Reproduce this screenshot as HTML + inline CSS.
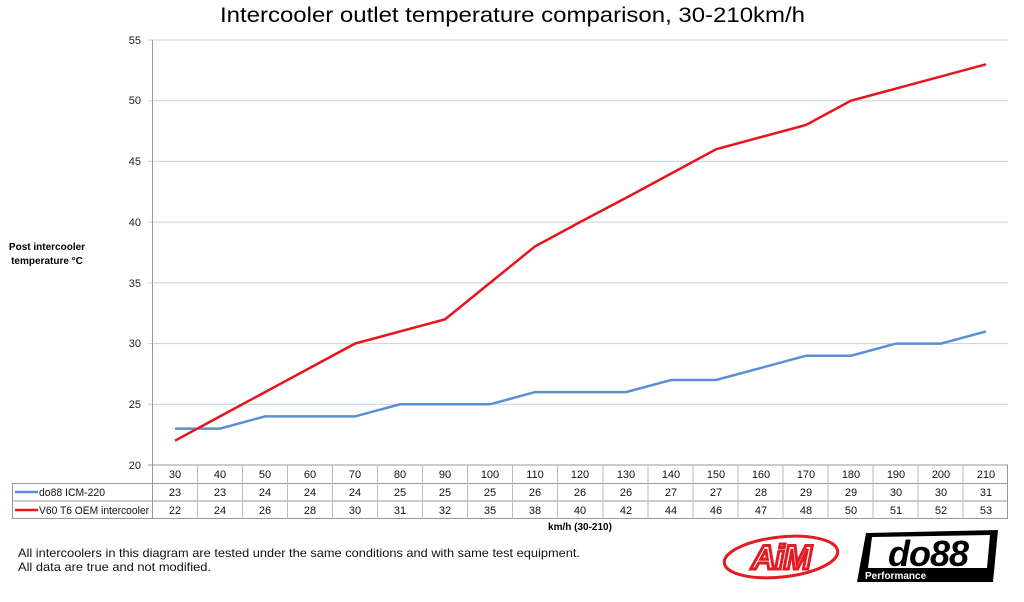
<!DOCTYPE html>
<html><head><meta charset="utf-8"><style>body{margin:0;background:#fff}svg{display:block}</style></head><body>
<svg width="1024" height="602" xmlns="http://www.w3.org/2000/svg" font-family="Liberation Sans, sans-serif">
<rect width="1024" height="602" fill="#fff"/>
<text x="220" y="22" font-size="21" textLength="585" lengthAdjust="spacingAndGlyphs" fill="#000">Intercooler outlet temperature comparison, 30-210km/h</text>
<g stroke="#c6d0e0" stroke-width="1">
<line x1="148" y1="40" x2="1008" y2="40"/><line x1="148" y1="100.7" x2="1008" y2="100.7"/><line x1="148" y1="161.4" x2="1008" y2="161.4"/><line x1="148" y1="222.1" x2="1008" y2="222.1"/><line x1="148" y1="282.9" x2="1008" y2="282.9"/><line x1="148" y1="343.6" x2="1008" y2="343.6"/><line x1="148" y1="404.3" x2="1008" y2="404.3"/>
</g>
<line x1="148" y1="465" x2="1008" y2="465" stroke="#999"/>
<line x1="152.5" y1="40" x2="152.5" y2="519" stroke="#999"/>
<g font-size="11" text-anchor="end" fill="#222">
<text x="141" y="44">55</text><text x="141" y="104">50</text><text x="141" y="165">45</text><text x="141" y="226">40</text><text x="141" y="287">35</text><text x="141" y="347">30</text><text x="141" y="408">25</text><text x="141" y="469">20</text>
</g>
<g font-size="10" font-weight="bold" text-anchor="middle"><text x="47" y="250">Post intercooler</text><text x="47" y="264">temperature °C</text></g>
<polyline fill="none" stroke="#5b8fd4" stroke-width="2.5" points="175,428.6 220,428.6 265,416.4 310,416.4 355,416.4 400,404.3 445,404.3 490,404.3 535,392.1 580,392.1 626,392.1 671,380 716,380 761,367.9 806,355.7 851,355.7 896,343.6 941,343.6 986,331.4"/>
<polyline fill="none" stroke="#e8141b" stroke-width="2.5" points="175,440.7 220,416.4 265,392.1 310,367.9 355,343.6 400,331.4 445,319.3 490,282.9 535,246.4 580,222.1 626,197.9 671,173.6 716,149.3 761,137.1 806,125 851,100.7 896,88.6 941,76.4 986,64.3"/>
<g stroke="#999" fill="none">
<rect x="12.5" y="483.5" width="995" height="35"/>
<line x1="12" y1="501" x2="1008" y2="501"/>
<line x1="1007.5" y1="465" x2="1007.5" y2="519"/>
<line x1="152.5" y1="465" x2="152.5" y2="519"/>
</g>
<g stroke="#bbb">
<line x1="197.5" y1="465" x2="197.5" y2="519"/><line x1="242.5" y1="465" x2="242.5" y2="519"/><line x1="287.5" y1="465" x2="287.5" y2="519"/><line x1="332.5" y1="465" x2="332.5" y2="519"/><line x1="377.5" y1="465" x2="377.5" y2="519"/><line x1="422.5" y1="465" x2="422.5" y2="519"/><line x1="467.5" y1="465" x2="467.5" y2="519"/><line x1="512.5" y1="465" x2="512.5" y2="519"/><line x1="557.5" y1="465" x2="557.5" y2="519"/><line x1="603" y1="465" x2="603" y2="519"/><line x1="648" y1="465" x2="648" y2="519"/><line x1="693" y1="465" x2="693" y2="519"/><line x1="738" y1="465" x2="738" y2="519"/><line x1="783" y1="465" x2="783" y2="519"/><line x1="828" y1="465" x2="828" y2="519"/><line x1="873" y1="465" x2="873" y2="519"/><line x1="918" y1="465" x2="918" y2="519"/><line x1="963" y1="465" x2="963" y2="519"/>
</g>
<line x1="15" y1="492" x2="38" y2="492" stroke="#5b8fd4" stroke-width="2.5"/>
<line x1="15" y1="510" x2="38" y2="510" stroke="#e8141b" stroke-width="2.5"/>
<g font-size="11" fill="#111"><text x="39" y="496" textLength="66" lengthAdjust="spacingAndGlyphs">do88 ICM-220</text><text x="39" y="514" textLength="110" lengthAdjust="spacingAndGlyphs">V60 T6 OEM intercooler</text></g>
<g font-size="11" text-anchor="middle" fill="#111">
<text y="478"><tspan x="175">30</tspan><tspan x="220">40</tspan><tspan x="265">50</tspan><tspan x="310">60</tspan><tspan x="355">70</tspan><tspan x="400">80</tspan><tspan x="445">90</tspan><tspan x="490">100</tspan><tspan x="535">110</tspan><tspan x="580">120</tspan><tspan x="626">130</tspan><tspan x="671">140</tspan><tspan x="716">150</tspan><tspan x="761">160</tspan><tspan x="806">170</tspan><tspan x="851">180</tspan><tspan x="896">190</tspan><tspan x="941">200</tspan><tspan x="986">210</tspan></text>
<text y="496"><tspan x="175">23</tspan><tspan x="220">23</tspan><tspan x="265">24</tspan><tspan x="310">24</tspan><tspan x="355">24</tspan><tspan x="400">25</tspan><tspan x="445">25</tspan><tspan x="490">25</tspan><tspan x="535">26</tspan><tspan x="580">26</tspan><tspan x="626">26</tspan><tspan x="671">27</tspan><tspan x="716">27</tspan><tspan x="761">28</tspan><tspan x="806">29</tspan><tspan x="851">29</tspan><tspan x="896">30</tspan><tspan x="941">30</tspan><tspan x="986">31</tspan></text>
<text y="514"><tspan x="175">22</tspan><tspan x="220">24</tspan><tspan x="265">26</tspan><tspan x="310">28</tspan><tspan x="355">30</tspan><tspan x="400">31</tspan><tspan x="445">32</tspan><tspan x="490">35</tspan><tspan x="535">38</tspan><tspan x="580">40</tspan><tspan x="626">42</tspan><tspan x="671">44</tspan><tspan x="716">46</tspan><tspan x="761">47</tspan><tspan x="806">48</tspan><tspan x="851">50</tspan><tspan x="896">51</tspan><tspan x="941">52</tspan><tspan x="986">53</tspan></text>
</g>
<text x="580" y="530" font-size="10" font-weight="bold" text-anchor="middle">km/h (30-210)</text>
<g font-size="12" fill="#111"><text x="18" y="557" textLength="562" lengthAdjust="spacingAndGlyphs">All intercoolers in this diagram are tested under the same conditions and with same test equipment.</text><text x="18" y="571" textLength="193" lengthAdjust="spacingAndGlyphs">All data are true and not modified.</text></g>
<ellipse cx="781" cy="557" rx="57" ry="20" fill="none" stroke="#e31b23" stroke-width="3" transform="rotate(-6 781 557)"/>
<text x="781" y="569" font-size="34" font-weight="bold" font-style="italic" text-anchor="middle" fill="#fff" stroke="#e31b23" stroke-width="3" letter-spacing="-1">AiM</text>
<polygon points="866,533 998,530 993,582 857,582" fill="#000"/>
<polygon points="872,537 990,535 987,568 868,568" fill="#fff"/>
<text x="928" y="566" font-size="36" font-weight="bold" font-style="italic" text-anchor="middle" fill="#000" letter-spacing="-1">do88</text>
<text x="865" y="579" font-size="10" font-weight="bold" fill="#fff">Performance</text>
</svg>
</body></html>
